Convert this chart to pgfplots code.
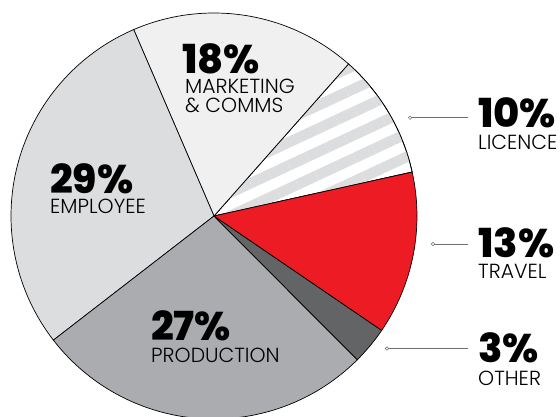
\documentclass[border=0pt]{standalone}
\usepackage{fontspec}
\setmainfont{Poppins}
\newfontfamily\heavy{Poppins ExtraBold}
\newfontfamily\light{Poppins Light}
\usepackage{pgfplots}
\usepackage{pgfplotstable}
\pgfplotsset{compat=1.18}
\usetikzlibrary{patterns.meta}

\definecolor{cMkt}{RGB}{240,240,241}
\definecolor{cEmp}{RGB}{220,221,223}
\definecolor{cPro}{RGB}{171,172,176}
\definecolor{cOth}{RGB}{99,100,102}
\definecolor{cTra}{RGB}{237,28,36}
\definecolor{cStripe}{RGB}{220,221,223}
\definecolor{cLead}{RGB}{110,110,112}

% shares in percent, counter-clockwise from the Licence/Travel edge
\pgfplotstableread{
slice value
Licence 10
Marketing 18
Employee 29
Production 27
Other 3
Travel 13
}\piedata

\newcommand\getv[2]{\pgfplotstablegetelem{#1}{value}\of\piedata\global\let#2\pgfplotsretval}
\getv{0}\vA \getv{1}\vB \getv{2}\vC \getv{3}\vD \getv{4}\vE \getv{5}\vF
\pgfmathsetmacro\aO{12.5}
\pgfmathsetmacro\aA{\aO+3.6*\vA}
\pgfmathsetmacro\aB{\aA+3.6*\vB}
\pgfmathsetmacro\aC{\aB+3.6*\vC}
\pgfmathsetmacro\aD{\aC+3.6*\vD}
\pgfmathsetmacro\aE{\aD+3.6*\vE}
\pgfmathsetmacro\aF{\aE+3.6*\vF}

\newcommand\slice[3]{%
  \addplot[#3] coordinates {(214,200)}
    -- ([shift={(#1:203pt)}]axis cs:214,200)
    arc[start angle=#1, end angle=#2, radius=203pt] -- cycle;}

\newcommand\pct[1]{\heavy\fontsize{40}{40}\selectfont #1}
\newcommand\nm[1]{\light\fontsize{20.4}{20.4}\selectfont #1}

\begin{document}
\begin{tikzpicture}
\begin{axis}[
  x=1pt, y=1pt,
  xmin=0, xmax=560, ymin=0, ymax=416,
  hide axis,
  scale only axis,
]
\path (rel axis cs:0,0) rectangle (rel axis cs:1,1);
\slice{\aO}{\aA}{draw=black, line width=0.7pt, preaction={fill=white},
  pattern={Lines[angle=25,distance=21pt,line width=10.5pt]}, pattern color=cStripe}
\slice{\aA}{\aB}{draw=black, line width=0.7pt, fill=cMkt}
\slice{\aB}{\aC}{draw=black, line width=0.7pt, fill=cEmp}
\slice{\aC}{\aD}{draw=black, line width=0.7pt, fill=cPro}
\slice{\aD}{\aE}{draw=black, line width=0.7pt, fill=cOth}
\slice{\aE}{\aF}{draw=black, line width=0.7pt, fill=cTra}

\addplot[cLead, line width=0.6pt, mark=*, mark size=1.7pt,
  mark options={fill=white, draw=cLead, line width=0.5pt}, mark indices={1}]
  coordinates {(410,298.3) (468,298.3)};
\addplot[cLead, line width=0.6pt, mark=*, mark size=1.7pt,
  mark options={fill=white, draw=cLead, line width=0.5pt}, mark indices={1}]
  coordinates {(433,172) (468,172)};
\addplot[cLead, line width=0.6pt, mark=*, mark size=1.7pt,
  mark options={fill=white, draw=cLead, line width=0.5pt}, mark indices={1}]
  coordinates {(387,67.5) (468,67.5)};

\node[anchor=base west, inner sep=0pt] at (axis cs:182,342) {\pct{18\%}};
\node[anchor=base west, inner sep=0pt] at (axis cs:185,323) {\nm{MARKETING}};
\node[anchor=base west, inner sep=0pt] at (axis cs:185,303) {\nm{\& COMMS}};
\node[anchor=base west, inner sep=0pt] at (axis cs:50,223) {\pct{29\%}};
\node[anchor=base west, inner sep=0pt] at (axis cs:50,203) {\nm{EMPLOYEE}};
\node[anchor=base west, inner sep=0pt] at (axis cs:151,76) {\pct{27\%}};
\node[anchor=base west, inner sep=0pt] at (axis cs:151,54) {\nm{PRODUCTION}};
\node[anchor=base west, inner sep=0pt] at (axis cs:478,288) {\pct{10\%}};
\node[anchor=base west, inner sep=0pt] at (axis cs:478,266) {\nm{LICENCE}};
\node[anchor=base west, inner sep=0pt] at (axis cs:478,159) {\pct{13\%}};
\node[anchor=base west, inner sep=0pt] at (axis cs:478,138) {\nm{TRAVEL}};
\node[anchor=base west, inner sep=0pt] at (axis cs:478,54) {\pct{3\%}};
\node[anchor=base west, inner sep=0pt] at (axis cs:478,31) {\nm{OTHER}};
\end{axis}
\end{tikzpicture}
\end{document}
